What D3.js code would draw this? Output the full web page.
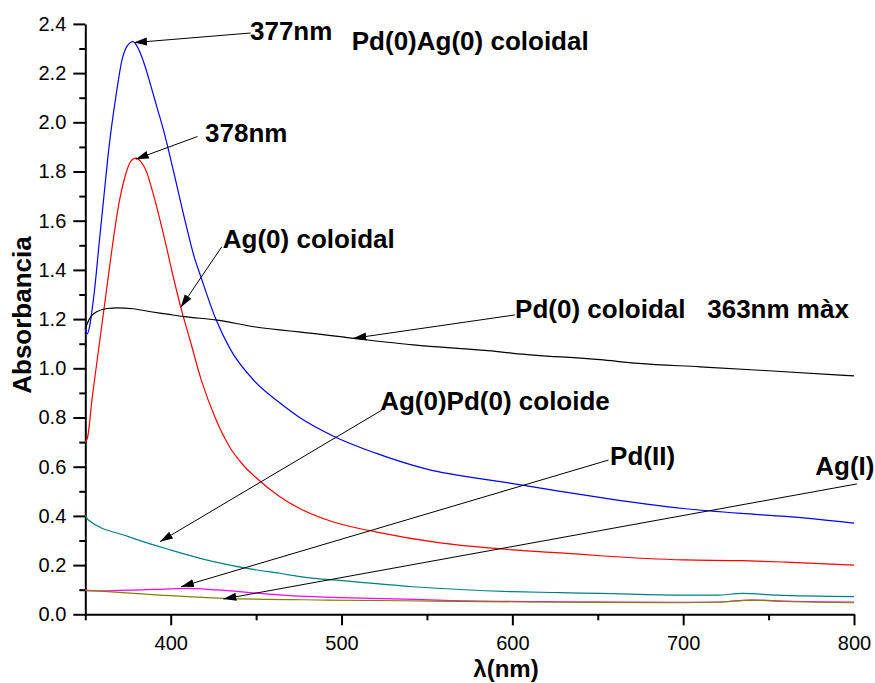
<html>
  <head>
    <meta charset="utf-8"/>
    <style>
      body { margin: 0; background: #fff; }
      text { font-family: "Liberation Sans", Arial, sans-serif; }
      .axis path, .axis line { stroke: #000; stroke-width: 2; }
      .axis text { font-size: 20px; fill: #000; }
      .lbl { font-size: 26px; font-weight: bold; white-space: pre; }
    </style>
  </head>
  <body>
    <svg></svg>
  </body>
  <script src="https://d3js.org/d3.v7.min.js"></script>
  <script>
  // Pd(0)Ag(0) coloidal (blue)
  var pdagNm  = [350, 351, 355.1, 358, 360.9, 363.9, 367.8, 371.7, 374.5, 378, 381, 384.4, 388.3, 392, 396.1, 401.9, 407.8, 413.7, 417.6, 426.4, 435.1, 448.8, 463.8, 475.5, 495, 520, 550, 593, 605, 628, 651, 700, 734, 760, 800];
  var pdagAbs = [1.16, 1.14, 1.30, 1.50, 1.70, 1.90, 2.10, 2.26, 2.31, 2.328, 2.30, 2.24, 2.15, 2.06, 1.96, 1.793, 1.617, 1.454, 1.373, 1.20, 1.075, 0.95, 0.86, 0.80, 0.725, 0.655, 0.59, 0.539, 0.526, 0.50, 0.475, 0.43, 0.41, 0.398, 0.371];
  // Ag(0) coloidal (red)
  var agNm  = [350, 351.2, 354.1, 358, 361.9, 365.8, 369.7, 373.7, 376.5, 379.5, 382.5, 385.4, 390.2, 396.1, 401.9, 406.8, 411.3, 418, 426, 434.5, 442, 450, 463.9, 475.5, 495.2, 520, 557.7, 600, 627.8, 651.4, 700.4, 734.4, 760, 800];
  var agAbs = [0.70, 0.715, 0.884, 1.088, 1.291, 1.494, 1.67, 1.79, 1.84, 1.854, 1.84, 1.806, 1.698, 1.535, 1.36, 1.224, 1.115, 0.95, 0.80, 0.68, 0.61, 0.555, 0.478, 0.43, 0.375, 0.335, 0.29, 0.262, 0.25, 0.238, 0.221, 0.218, 0.212, 0.20];
  // Pd(0) coloidal (black)
  var pdNm  = [350, 351.2, 355.1, 362.9, 368.7, 378, 388.3, 398, 407.8, 427.3, 448.8, 463.8, 475, 506.9, 542, 592.7, 600.6, 651.4, 673.8, 709.9, 750, 800];
  var pdAbs = [1.16, 1.183, 1.223, 1.243, 1.246, 1.242, 1.23, 1.22, 1.21, 1.196, 1.169, 1.156, 1.148, 1.122, 1.095, 1.067, 1.061, 1.035, 1.02, 1.006, 0.99, 0.969];
  // Ag(0)Pd(0) coloide (teal)
  var agpdNm  = [350, 351.8, 375.2, 400.2, 425, 450.4, 463.9, 475.7, 500, 542, 600, 627.8, 651.4, 700.4, 720, 734.4, 754.7, 800];
  var agpdAbs = [0.404, 0.383, 0.316, 0.261, 0.214, 0.18, 0.167, 0.153, 0.137, 0.112, 0.092, 0.088, 0.085, 0.078, 0.078, 0.085, 0.078, 0.072];
  // Pd(II) (magenta)
  var pdiiNm  = [350, 352, 370, 390, 409, 427, 452.3, 475.7, 500, 530.3, 560, 627.8, 700, 720, 740, 760, 800];
  var pdiiAbs = [0.10, 0.095, 0.097, 0.101, 0.105, 0.099, 0.085, 0.074, 0.068, 0.063, 0.057, 0.051, 0.049, 0.05, 0.058, 0.054, 0.05];
  // Ag(I) (olive)
  var agiNm  = [350, 393.7, 430.8, 491.3, 536.2, 627.8, 700, 720, 740, 760, 800];
  var agiAbs = [0.098, 0.078, 0.065, 0.058, 0.055, 0.049, 0.047, 0.049, 0.058, 0.052, 0.047];

  var xMajor = [400, 500, 600, 700, 800];
  var xMinor = [350, 450, 550, 650, 750];
  var yMajor = [0, 0.2, 0.4, 0.6, 0.8, 1.0, 1.2, 1.4, 1.6, 1.8, 2.0, 2.2, 2.4];
  var yMinor = [0.1, 0.3, 0.5, 0.7, 0.9, 1.1, 1.3, 1.5, 1.7, 1.9, 2.1, 2.3];

  // annotations in data units: text start / baseline, arrow start, arrow tip
  var annoText = ["377nm", "Pd(0)Ag(0) coloidal", "378nm", "Ag(0) coloidal",
                  "Pd(0) coloidal   363nm màx", "Ag(0)Pd(0) coloide", "Pd(II)", "Ag(I)"];
  var annoPos  = [[446.4, 2.335], [506, 2.294], [420.1, 1.921], [430.5, 1.488],
                  [601.6, 1.204], [522.6, 0.830], [657.2, 0.607], [777.3, 0.566]];
  var arrowFrom = [[446.8, 2.363], [415.6, 1.942], [429.9, 1.494], [601.5, 1.217],
                   [523.6, 0.830], [656.3, 0.627], [801.7, 0.530]];
  var arrowTo   = [[378.5, 2.324], [379.5, 1.850], [405.9, 1.248], [506.9, 1.122],
                   [393.7, 0.295], [406.0, 0.112], [430.8, 0.062]];

  var series = [
    {nm: pdagNm, abs: pdagAbs, color: "#0000ff"},
    {nm: agNm, abs: agAbs, color: "#ff0000"},
    {nm: pdNm, abs: pdAbs, color: "#000000"},
    {nm: agpdNm, abs: agpdAbs, color: "#008080"},
    {nm: pdiiNm, abs: pdiiAbs, color: "#ff00ff"},
    {nm: agiNm, abs: agiAbs, color: "#808000"}
  ];

  var W = 875, H = 683;
  var svg = d3.select("svg").attr("width", W).attr("height", H);

  var x = d3.scaleLinear().domain([350, 800]).range([85.3, 854]);
  var y = d3.scaleLinear().domain([0, 2.4]).range([614.3, 23.9]);

  svg.append("defs").append("marker")
    .attr("id", "head")
    .attr("markerUnits", "userSpaceOnUse")
    .attr("viewBox", "0 -5 14 10")
    .attr("refX", 13).attr("refY", 0)
    .attr("markerWidth", 14).attr("markerHeight", 10)
    .attr("orient", "auto")
    .append("path").attr("d", "M0,-4L13,0L0,4Z").attr("fill", "#000");

  // minor ticks
  svg.append("g").attr("class", "axis")
    .attr("transform", "translate(0," + y(0) + ")")
    .call(d3.axisBottom(x).tickValues(xMinor).tickSize(6).tickFormat(""))
    .select(".domain").remove();
  svg.append("g").attr("class", "axis")
    .attr("transform", "translate(" + x(350) + ",0)")
    .call(d3.axisLeft(y).tickValues(yMinor).tickSize(6).tickFormat(""))
    .select(".domain").remove();

  // major axes
  svg.append("g").attr("class", "axis")
    .attr("transform", "translate(0," + y(0) + ")")
    .call(d3.axisBottom(x).tickValues(xMajor).tickSize(11).tickSizeOuter(0).tickPadding(10.5).tickFormat(d3.format("d")));
  svg.append("g").attr("class", "axis")
    .attr("transform", "translate(" + x(350) + ",0)")
    .call(d3.axisLeft(y).tickValues(yMajor).tickSize(12).tickSizeOuter(0).tickPadding(7).tickFormat(d3.format(".1f")));

  var line = d3.line()
    .x(function(d) { return x(d[0]); })
    .y(function(d) { return y(d[1]); })
    .curve(d3.curveMonotoneX);

  series.forEach(function(s) {
    svg.append("path")
      .datum(d3.zip(s.nm, s.abs))
      .attr("fill", "none")
      .attr("stroke", s.color)
      .attr("stroke-width", 1.2)
      .attr("d", line);
  });

  // arrows
  svg.selectAll(".arrow")
    .data(d3.zip(arrowFrom, arrowTo))
    .enter().append("line")
    .attr("class", "arrow")
    .attr("x1", function(d) { return x(d[0][0]); })
    .attr("y1", function(d) { return y(d[0][1]); })
    .attr("x2", function(d) { return x(d[1][0]); })
    .attr("y2", function(d) { return y(d[1][1]); })
    .attr("stroke", "#000")
    .attr("stroke-width", 1)
    .attr("marker-end", "url(#head)");

  svg.selectAll(".lbl")
    .data(d3.zip(annoText, annoPos))
    .enter().append("text")
    .attr("class", "lbl")
    .attr("x", function(d) { return x(d[1][0]); })
    .attr("y", function(d) { return y(d[1][1]); })
    .text(function(d) { return d[0]; });

  // axis titles
  svg.append("text")
    .attr("class", "lbl")
    .attr("text-anchor", "middle")
    .attr("transform", "translate(31,315) rotate(-90)")
    .text("Absorbancia");
  svg.append("text")
    .attr("class", "lbl")
    .attr("text-anchor", "middle")
    .style("font-size", "24px")
    .attr("x", 506).attr("y", 677)
    .text("λ(nm)");
  </script>
</html>
